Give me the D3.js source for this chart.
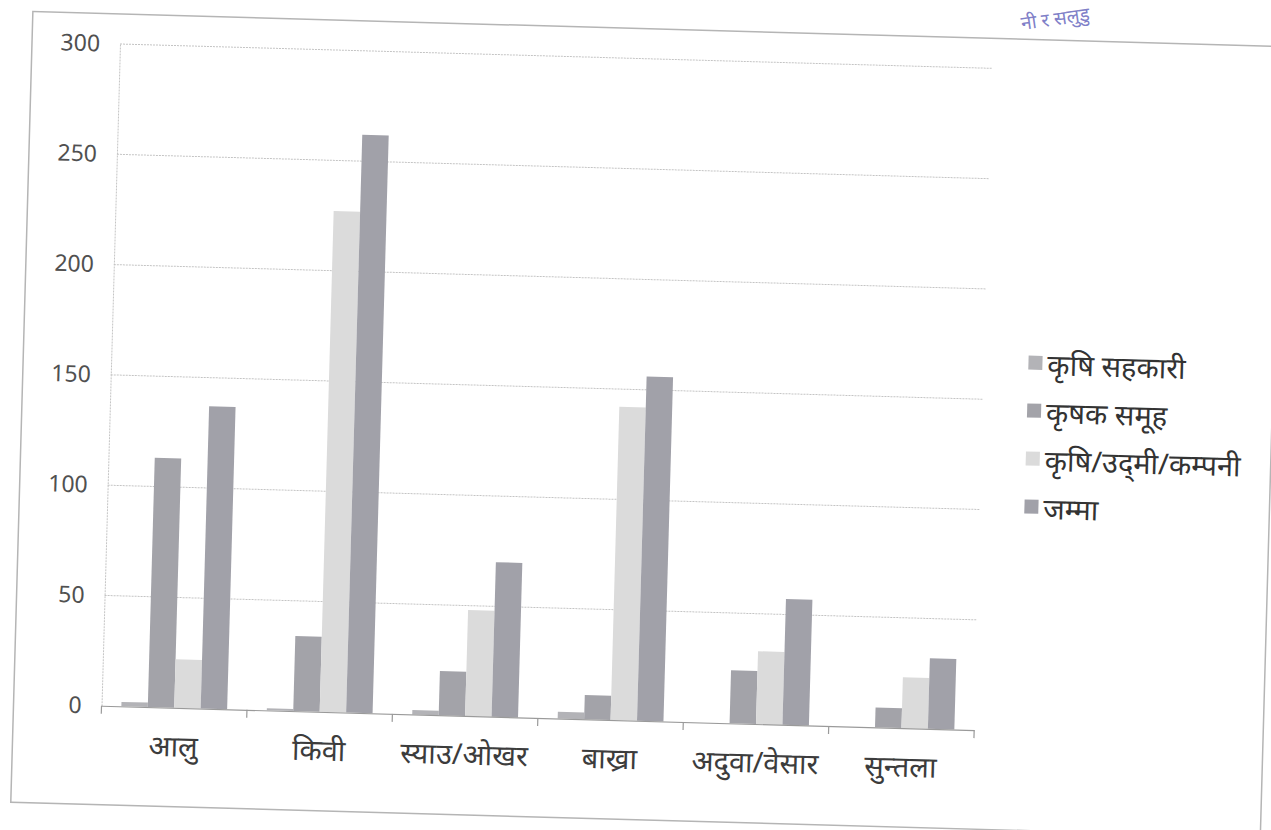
<!DOCTYPE html>
<html>
<head>
<meta charset="utf-8">
<script src="https://cdn.jsdelivr.net/npm/d3@7"></script>
<style>
  body { margin: 0; background: #fff; }
  svg { display: block; }
  text { font-family: "Noto Sans", "Open Sans", sans-serif; }
</style>
</head>
<body>
<svg id="chart" width="1271" height="830"></svg>
<script>
// बाली अनुसार संस्थाहरुको संख्या
const categories = ['आलु', 'किवी', 'स्याउ/ओखर', 'बाख्रा', 'अदुवा/वेसार', 'सुन्तला'];
const seriesNames = ['कृषि सहकारी', 'कृषक समूह', 'कृषि/उद्‌मी/कम्पनी', 'जम्मा'];
const sahakari = [2, 1, 2, 3, 0, 0];
const samuha = [113, 34, 20, 11, 24, 9];
const kampani = [22, 227, 48, 142, 33, 23];
const jamma = [137, 262, 70, 156, 57, 32];
const yTicks = [0, 50, 100, 150, 200, 250, 300];

const seriesValues = [sahakari, samuha, kampani, jamma];
const colors = ['#b3b3b7', '#a3a3a9', '#dbdbdb', '#a1a1a9'];

const svg = d3.select('#chart');
// scan is a bit skewed, so the whole chart sits in a rotated group
const g = svg.append('g').attr('transform', 'rotate(1.6,120,44)');

// outer frame
g.append('rect')
  .attr('x', 32).attr('y', 14).attr('width', 1250).attr('height', 791)
  .attr('fill', 'none').attr('stroke', '#b5b5b5').attr('stroke-width', 1.5);

const x = d3.scaleBand().domain(categories).range([120, 993]);
const xs = d3.scaleBand().domain(seriesNames).range([0, x.bandwidth()]).paddingOuter(0.75);
const y = d3.scaleLinear().domain([0, 300]).range([706, 44]);

// gridlines
g.append('g').selectAll('line').data(yTicks.filter(d => d > 0)).enter().append('line')
  .attr('x1', 120).attr('x2', 993)
  .attr('y1', d => y(d)).attr('y2', d => y(d))
  .attr('stroke', '#c4c4c4').attr('stroke-width', 1).attr('stroke-dasharray', '2,1');

// y axis
const yAxis = g.append('g').attr('transform', 'translate(120,0)')
  .call(d3.axisLeft(y).tickValues(yTicks).tickSize(0).tickPadding(20));
yAxis.select('.domain').attr('stroke', '#c4c4c4').attr('stroke-dasharray', '2,1');
yAxis.selectAll('text').attr('font-size', 23).attr('fill', '#505050').attr('font-family', '"Open Sans", sans-serif');

// bars
const groups = g.append('g').selectAll('g').data(categories).enter().append('g')
  .attr('transform', d => `translate(${x(d)},0)`);
groups.selectAll('rect').data((c, i) => seriesNames.map((s, j) => ({ s, v: seriesValues[j][i], j })))
  .enter().append('rect')
  .attr('x', d => xs(d.s)).attr('width', xs.bandwidth())
  .attr('y', d => y(d.v)).attr('height', d => y(0) - y(d.v))
  .attr('fill', d => colors[d.j]);

// x axis
const xAxis = g.append('g').attr('transform', `translate(0,${y(0)})`)
  .call(d3.axisBottom(x).tickSize(0).tickPadding(28));
xAxis.select('.domain').attr('stroke', '#9a9a9a').attr('stroke-width', 1.2);
xAxis.selectAll('text').attr('font-size', 29).attr('fill', '#3c3c3c');
g.append('g').selectAll('line').data(categories.concat(['end'])).enter().append('line')
  .attr('x1', (d, i) => 120 + i * x.step()).attr('x2', (d, i) => 120 + i * x.step())
  .attr('y1', y(0)).attr('y2', y(0) + 8)
  .attr('stroke', '#9a9a9a').attr('stroke-width', 1.2);

// legend
const legend = g.append('g').attr('transform', 'translate(1037,330)');
const items = legend.selectAll('g').data(seriesNames).enter().append('g')
  .attr('transform', (d, i) => `translate(0,${i * 48})`);
items.append('rect').attr('width', 14).attr('height', 14).attr('fill', (d, i) => colors[i]);
items.append('text').attr('x', 19).attr('y', 19).attr('font-size', 29).attr('fill', '#333').text(d => d);

// corner of a stamp on the scan
svg.append('text').attr('x', 1022).attr('y', 30).attr('font-size', 19)
  .attr('fill', '#8080c8').attr('transform', 'rotate(-8,1022,30)').text('नी र सलुडु');
</script>
</body>
</html>
